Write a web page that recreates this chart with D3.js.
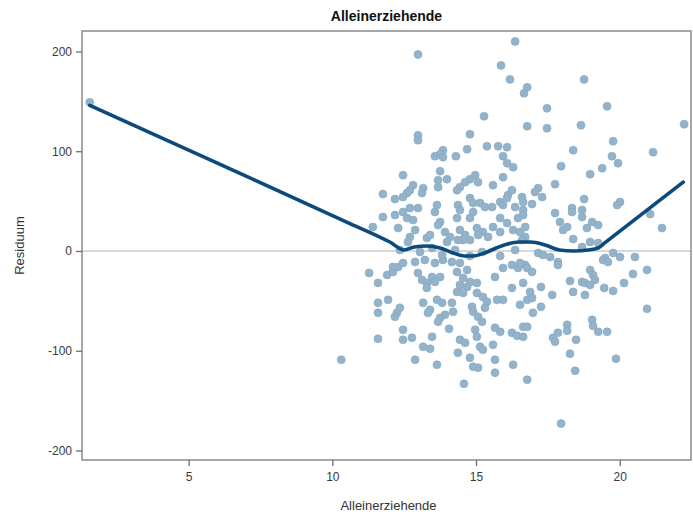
<!DOCTYPE html>
<html>
<head>
<meta charset="utf-8">
<script src="https://cdn.jsdelivr.net/npm/d3@7"></script>
<style>
  html, body { margin: 0; padding: 0; background: #fff; }
  svg { display: block; font-family: "Liberation Sans", Arial, sans-serif; }
</style>
</head>
<body>
<svg id="chart" width="693" height="519"></svg>
<script>
// Residuals against share of single parents
const pointX = [
  16.36, 12.98, 15.87, 16.18, 16.78, 16.67, 15.28, 16.78, 14.79, 12.98,
  12.98, 15.38, 15.77, 16.08, 13.85, 14.69, 18.76, 17.47, 19.56, 17.47,
  18.65, 22.24, 19.77, 18.38, 21.16, 13.57, 13.75, 13.85, 14.30, 15.94,
  16.08, 16.29, 13.75, 12.46, 13.68, 13.99, 14.97, 14.79, 14.62, 15.07,
  15.94, 12.81, 12.70, 12.60, 11.76, 13.16, 13.12, 13.68, 14.44, 14.34,
  15.59, 16.25, 16.11, 16.08, 14.79, 14.90, 12.18, 12.46, 16.60, 12.98,
  12.70, 13.64, 13.57, 14.37, 14.44, 15.14, 15.31, 15.56, 15.84, 15.94,
  16.36, 16.64, 11.76, 12.18, 12.46, 12.60, 12.81, 13.75, 13.68, 14.34,
  14.90, 14.79, 15.84, 16.08, 16.46, 16.64, 11.41, 12.29, 12.88, 12.70,
  12.63, 13.29, 13.40, 13.92, 14.10, 13.99, 14.44, 14.62, 14.79, 14.55,
  14.37, 15.03, 15.24, 15.42, 15.07, 15.59, 15.84, 16.29, 16.53, 16.71,
  19.73, 19.94, 17.96, 19.39, 18.97, 17.75, 17.16, 17.05, 17.30, 16.64,
  16.95, 18.76, 20.01, 19.91, 18.34, 18.34, 18.69, 18.69, 17.75, 21.06,
  17.92, 18.17, 18.03, 19.04, 19.25, 18.86, 18.38, 21.47, 18.69, 18.97,
  19.25, 16.71, 16.60, 19.77, 20.01, 20.53, 19.49, 13.05, 11.28, 11.59,
  11.91, 12.11, 12.29, 12.46, 12.11, 12.88, 13.22, 13.57, 13.85, 14.16,
  14.44, 12.98, 13.12, 13.29, 13.29, 13.47, 13.57, 13.75, 14.34, 14.69,
  14.55, 14.44, 14.69, 14.79, 15.03, 14.34, 14.55, 15.03, 15.24, 15.38,
  15.66, 15.94, 16.25, 16.46, 16.71, 16.25, 16.64, 11.59, 11.59, 11.94,
  12.25, 12.35, 12.18, 13.16, 13.64, 13.82, 14.16, 14.20, 13.92, 13.40,
  13.33, 13.75, 13.68, 14.86, 14.90, 15.07, 15.21, 15.31, 15.73, 15.94,
  16.53, 16.78, 12.46, 14.06, 11.59, 12.46, 12.77, 13.47, 14.44, 14.62,
  14.97, 15.03, 15.66, 15.84, 16.25, 16.43, 16.64, 16.64, 13.16, 13.40,
  14.37, 15.14, 15.24, 15.59, 12.88, 13.64, 14.79, 15.66, 16.29, 15.07,
  14.90, 17.16, 17.33, 17.58, 17.85, 17.85, 16.53, 16.78, 16.95, 19.42,
  19.59, 18.97, 19.07, 19.14, 18.27, 18.69, 18.79, 18.97, 20.46, 20.95,
  20.15, 19.46, 19.77, 17.26, 16.88, 18.38, 18.79, 17.65, 16.95, 17.26,
  16.98, 20.95, 19.04, 19.07, 18.17, 18.17, 16.78, 19.25, 19.56, 17.85,
  17.68, 17.75, 18.48, 18.27, 19.87, 18.45, 15.66, 16.78, 14.58, 17.96,
  10.31, 1.56, 12.35, 13.47, 14.27, 15.21, 15.84, 16.36, 14.79, 13.82
];
const pointY = [
  210, 197, 186, 172, 164, 158, 135, 125, 117, 116,
  111, 105, 105, 104, 101, 102, 172, 143, 145, 123,
  126, 127, 110, 101, 99, 95, 97, 94, 95, 95,
  88, 84, 80, 76, 71, 72, 76, 72, 69, 69,
  74, 66, 61, 58, 57, 63, 58, 64, 64, 61,
  66, 61, 56, 53, 53, 48, 52, 54, 54, 43,
  43, 46, 39, 46, 41, 48, 44, 44, 49, 46,
  44, 41, 34, 36, 39, 33, 31, 29, 26, 33,
  39, 33, 33, 28, 33, 36, 24, 23, 21, 14,
  9, 13, 16, 19, 14, 9, 21, 16, 11, 11,
  11, 23, 19, 14, 16, 24, 19, 21, 19, 24,
  95, 88, 85, 83, 77, 67, 63, 59, 54, 49,
  47, 52, 49, 46, 43, 39, 41, 34, 38, 37,
  29, 24, 21, 29, 26, 23, 12, 23, 4, 9,
  8, 14, 11, -2, -6, -6, -7, -1, -22, -32,
  -24, -21, -16, -12, -16, -11, -9, -12, -9, -11,
  -12, -22, -29, -32, -37, -26, -31, -26, -21, -19,
  -27, -34, -36, -31, -32, -41, -42, -42, -46, -51,
  -26, -17, -14, -17, -14, -37, -32, -52, -62, -49,
  -62, -57, -66, -52, -49, -52, -52, -61, -64, -59,
  -62, -67, -71, -56, -61, -66, -71, -57, -49, -49,
  -54, -49, -79, -78, -88, -89, -87, -86, -89, -92,
  -79, -86, -77, -81, -82, -85, -86, -76, -96, -98,
  -102, -96, -99, -94, -109, -114, -107, -109, -114, -117,
  -116, -2, -4, -6, -11, -14, -12, -17, -21, -9,
  -11, -19, -24, -29, -30, -31, -32, -34, -23, -19,
  -32, -37, -40, -36, -41, -41, -44, -44, -47, -56,
  -62, -58, -69, -75, -74, -80, -76, -81, -81, -82,
  -87, -91, -89, -103, -108, -120, -122, -129, -133, -173,
  -109, 149, 1, 3, 1, -1, -5, 1, -5, -4
];

// Smoothed trend (LOESS) through the residuals: straight tails, wavy middle
const smoothX = [1.56, 6.0, 10.5, 12.0, 12.5, 12.85, 13.3, 13.75, 14.2, 14.6,
                 14.9, 15.3, 15.7, 16.1, 16.5, 16.9, 17.4, 17.9, 18.4, 18.9,
                 19.25, 19.5, 22.21];
const smoothY = [146, 88, 29, 9, 1, 4, 5, 3, -2, -5,
                 -5, -2, 3, 7, 9, 9, 6, 1, 0, 1,
                 3, 8.6, 69];

const xTicks = [5, 10, 15, 20];
const yTicks = [-200, -100, 0, 100, 200];

const chartTitle = "Alleinerziehende";
const xTitle = "Alleinerziehende";
const yTitle = "Residuum";

const svg = d3.select("#chart");
const plot = { left: 82, right: 691, top: 31, bottom: 460 };

const x = d3.scaleLinear().domain([1.29, 22.48]).range([plot.left, plot.right]);
const y = d3.scaleLinear().domain([-209.5, 220.5]).range([plot.bottom, plot.top]);

// zero reference line
svg.append("line")
  .attr("x1", plot.left).attr("x2", plot.right)
  .attr("y1", y(0)).attr("y2", y(0))
  .attr("stroke", "#b4b4b4").attr("stroke-width", 1.2);

// residual points
const pts = pointX.map((v, i) => [v, pointY[i]]);
svg.append("g").selectAll("circle")
  .data(pts).join("circle")
  .attr("cx", d => x(d[0]))
  .attr("cy", d => y(d[1]))
  .attr("r", 4)
  .attr("fill", "#92b3ca")
  .attr("stroke", "#84a7c1")
  .attr("stroke-width", 0.6);

// trend line
const trend = smoothX.map((v, i) => [v, smoothY[i]]);
svg.append("path")
  .datum(trend)
  .attr("d", d3.line().x(d => x(d[0])).y(d => y(d[1])).curve(d3.curveMonotoneX))
  .attr("fill", "none")
  .attr("stroke", "#0d4a7c")
  .attr("stroke-width", 3.6)
  .attr("stroke-linejoin", "round")
  .attr("stroke-linecap", "round");

// frame
svg.append("rect")
  .attr("x", plot.left).attr("y", plot.top)
  .attr("width", plot.right - plot.left).attr("height", plot.bottom - plot.top)
  .attr("fill", "none").attr("stroke", "#8a8a8a").attr("stroke-width", 1.5);

// axes
const xAxis = svg.append("g")
  .attr("transform", `translate(0,${plot.bottom})`)
  .call(d3.axisBottom(x).tickValues(xTicks).tickSize(6).tickPadding(6).tickSizeOuter(0)
    .tickFormat(d => String(d)));
const yAxis = svg.append("g")
  .attr("transform", `translate(${plot.left},0)`)
  .call(d3.axisLeft(y).tickValues(yTicks).tickSize(6).tickPadding(4).tickSizeOuter(0)
    .tickFormat(d => String(d)));

[xAxis, yAxis].forEach(g => {
  g.select(".domain").remove();
  g.selectAll(".tick line").attr("stroke", "#6e6e6e").attr("stroke-width", 1.3);
  g.selectAll(".tick text").attr("fill", "#3a3a3a").attr("font-size", 12);
});

// titles
svg.append("text")
  .attr("x", (plot.left + plot.right) / 2).attr("y", 21)
  .attr("text-anchor", "middle")
  .attr("font-size", 14).attr("font-weight", "bold").attr("fill", "#111")
  .text(chartTitle);

svg.append("text")
  .attr("x", (plot.left + plot.right) / 2 + 2).attr("y", 510)
  .attr("text-anchor", "middle")
  .attr("font-size", 13).attr("fill", "#333")
  .text(xTitle);

svg.append("text")
  .attr("transform", `translate(24,${(plot.top + plot.bottom) / 2}) rotate(-90)`)
  .attr("text-anchor", "middle")
  .attr("font-size", 13).attr("fill", "#333")
  .text(yTitle);
</script>
</body>
</html>
